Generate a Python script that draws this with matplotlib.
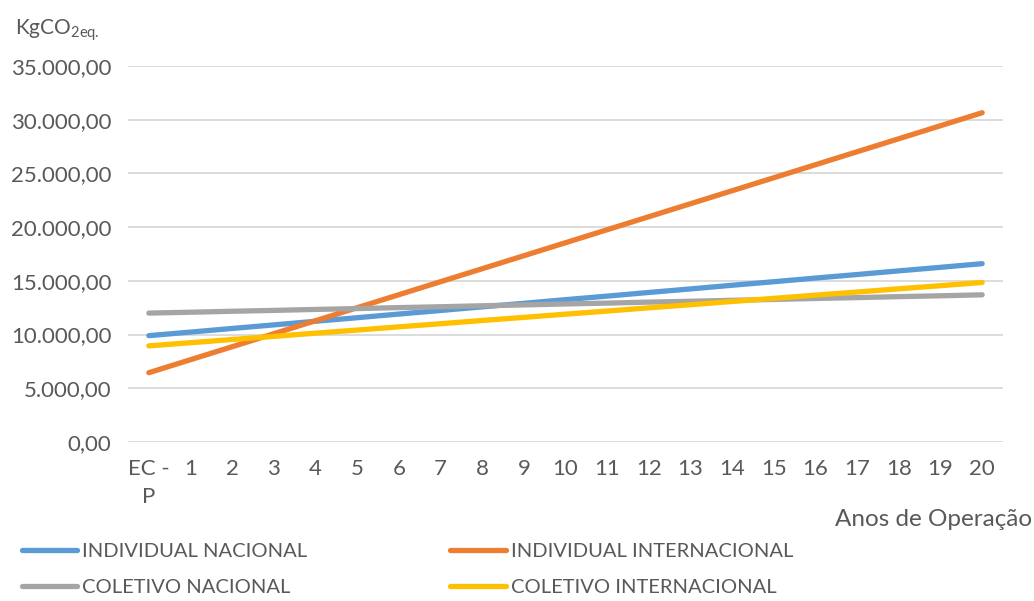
import matplotlib
matplotlib.use("Agg")
import matplotlib.pyplot as plt

plt.rcParams['font.family'] = ['Lato', 'DejaVu Sans']

# dados
categorias = ["EC -\nP"] + [str(i) for i in range(1, 21)]
individual_nacional = [9900, 10230, 10570, 10900, 11240, 11570, 11910, 12240, 12580, 12910,
                       13250, 13580, 13920, 14250, 14590, 14920, 15260, 15590, 15930, 16260, 16600]
individual_internacional = [6450, 7660, 8870, 10080, 11290, 12500, 13710, 14920, 16130, 17340,
                            18550, 19760, 20970, 22180, 23390, 24600, 25810, 27020, 28230, 29440, 30650]
coletivo_nacional = [12000, 12080, 12170, 12250, 12340, 12420, 12510, 12590, 12680, 12760,
                     12850, 12930, 13020, 13100, 13190, 13270, 13360, 13440, 13530, 13610, 13700]
coletivo_internacional = [8950, 9240, 9540, 9830, 10130, 10420, 10720, 11010, 11310, 11600,
                          11900, 12190, 12490, 12780, 13080, 13370, 13670, 13960, 14260, 14550, 14850]
yticks = [0, 5000, 10000, 15000, 20000, 25000, 30000, 35000]
ytick_labels = ["0,00", "5.000,00", "10.000,00", "15.000,00", "20.000,00",
                "25.000,00", "30.000,00", "35.000,00"]

texto = '#595959'
fig = plt.figure(figsize=(10.34, 6.01), dpi=100)
ax = fig.add_axes([128 / 1034, 159 / 601, 875 / 1034, 376 / 601])

x = list(range(len(categorias)))
series = [
    ("INDIVIDUAL NACIONAL", individual_nacional, '#5B9BD5'),
    ("INDIVIDUAL INTERNACIONAL", individual_internacional, '#ED7D31'),
    ("COLETIVO NACIONAL", coletivo_nacional, '#A5A5A5'),
    ("COLETIVO INTERNACIONAL", coletivo_internacional, '#FFC000'),
]
linhas = []
for nome, vals, cor in series:
    l, = ax.plot(x, vals, color=cor, lw=3.8, solid_capstyle='round', label=nome, zorder=3)
    linhas.append(l)

ax.set_xlim(-0.5, len(categorias) - 0.5)
ax.set_ylim(0, 35000)
ax.set_yticks(yticks)
ax.set_yticklabels(ytick_labels)
ax.set_xticks(x)
ax.set_xticklabels(categorias, linespacing=1.55, va='top')
ax.grid(axis='y', color='#D9D9D9', lw=1.3)
ax.set_axisbelow(True)
for s in ax.spines.values():
    s.set_visible(False)
ax.tick_params(length=0, labelsize=16, colors=texto, pad=12)
for lbl in ax.get_yticklabels():
    lbl.set_horizontalalignment('right')

fig.text(15 / 1034, 1 - 30 / 601, 'KgCO$_{\\mathregular{2eq.}}$', fontsize=15, color=texto,
         va='center', ha='left')
fig.text(835 / 1034, 1 - 520 / 601, 'Anos de Operação', fontsize=17.5, color=texto,
         va='center', ha='left')

# ordem por linhas: matplotlib preenche por colunas
ordem = [linhas[0], linhas[2], linhas[1], linhas[3]]
fig.legend(ordem, [l.get_label() for l in ordem], loc='upper left',
           bbox_to_anchor=(14 / 1034, 1 - 535 / 601), ncol=2, frameon=False,
           fontsize=14.5, labelcolor=texto, handlelength=2.74, handletextpad=0.25,
           columnspacing=7.1, labelspacing=0.95, borderaxespad=0)

fig.savefig('out.png', dpi=100)
